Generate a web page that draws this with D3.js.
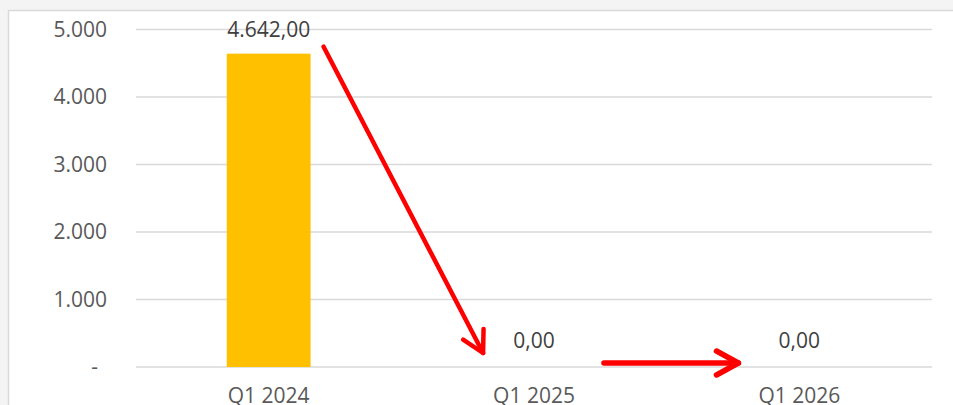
<!DOCTYPE html>
<html lang="de">
<head>
<meta charset="UTF-8">
<title>Q1 Vergleich</title>
<script src="https://cdn.jsdelivr.net/npm/d3@7"></script>
<style>
  html, body { margin: 0; padding: 0; background: #f4f4f4; }
  svg { display: block; font-family: "Open Sans", sans-serif; }
</style>
</head>
<body>
<div id="chart"></div>
<script>
// data
var categories = ['Q1 2024', 'Q1 2025', 'Q1 2026'];
var values = [4642, 0, 0];
var yTicks = [0, 1000, 2000, 3000, 4000, 5000];

var W = 953, H = 405;
var margin = { left: 136, right: 21, top: 29.5, bottom: 38 };

var svg = d3.select('#chart').append('svg')
    .attr('width', W).attr('height', H);

// white chart area with thin border
svg.append('rect')
    .attr('x', 8.5).attr('y', 10.5)
    .attr('width', W + 10).attr('height', H + 10)
    .attr('fill', '#fff')
    .attr('stroke', '#d9d9d9').attr('stroke-width', 1.5);

var x = d3.scaleBand()
    .domain(categories)
    .range([margin.left, W - margin.right])
    .paddingInner(0.684).paddingOuter(0.342);

var y = d3.scaleLinear()
    .domain([0, 5000])
    .range([H - margin.bottom, margin.top]);

var fmtAxis = function (d) {
    return d === 0 ? '-' : d3.format(',')(d).replace(/,/g, '.');
};
var fmtLabel = function (d) {
    // 4642 -> 4.642,00
    return d3.format(',.2f')(d).replace(/,/g, '#').replace('.', ',').replace(/#/g, '.');
};

// gridlines
svg.append('g')
  .selectAll('line')
  .data(yTicks)
  .join('line')
    .attr('x1', margin.left).attr('x2', W - margin.right)
    .attr('y1', function (d) { return y(d); })
    .attr('y2', function (d) { return y(d); })
    .attr('stroke', '#d9d9d9').attr('stroke-width', 1.6);

// y axis labels
var yAxis = d3.axisLeft(y).tickValues(yTicks).tickSize(0).tickPadding(0).tickFormat(fmtAxis);
var gy = svg.append('g').attr('transform', 'translate(107,0)').call(yAxis);
gy.select('.domain').remove();
gy.selectAll('text')
    .attr('font-family', '"Open Sans", sans-serif')
    .attr('font-size', 21)
    .attr('fill', '#595959')
    .attr('dy', '0.33em')
    .attr('x', function (d) { return d === 0 ? -9 : 0; });

// bars
svg.append('g')
  .selectAll('rect')
  .data(values)
  .join('rect')
    .attr('x', function (d, i) { return x(categories[i]); })
    .attr('y', function (d) { return y(d); })
    .attr('width', x.bandwidth())
    .attr('height', function (d) { return y(0) - y(d); })
    .attr('fill', '#ffc000');

// value labels
svg.append('g')
  .selectAll('text')
  .data(values)
  .join('text')
    .attr('x', function (d, i) { return x(categories[i]) + x.bandwidth() / 2; })
    .attr('y', function (d) { return y(d) - (d === 0 ? 19 : 17); })
    .attr('text-anchor', 'middle')
    .attr('font-size', 21)
    .attr('fill', '#404040')
    .text(fmtLabel);

// x axis labels
var xAxis = d3.axisBottom(x).tickSize(0).tickPadding(0);
var gx = svg.append('g').attr('transform', 'translate(0,' + y(0) + ')').call(xAxis);
gx.select('.domain').remove();
gx.selectAll('text')
    .attr('font-family', '"Open Sans", sans-serif')
    .attr('font-size', 21)
    .attr('fill', '#595959')
    .attr('dy', null)
    .attr('y', 36);

// red arrows
function arrow(x1, y1, x2, y2, sw, head) {
    var a = Math.atan2(y2 - y1, x2 - x1);
    var g = svg.append('g')
        .attr('stroke', '#ff0000').attr('stroke-width', sw)
        .attr('fill', 'none').attr('stroke-linecap', 'round').attr('stroke-linejoin', 'round');
    g.append('line').attr('x1', x1).attr('y1', y1).attr('x2', x2).attr('y2', y2);
    var p = d3.path();
    p.moveTo(x2 - head * Math.cos(a - 0.5), y2 - head * Math.sin(a - 0.5));
    p.lineTo(x2, y2);
    p.lineTo(x2 - head * Math.cos(a + 0.5), y2 - head * Math.sin(a + 0.5));
    g.append('path').attr('d', p.toString());
}
var b0 = x(categories[0]), b1 = x(categories[1]), b2 = x(categories[2]), bw = x.bandwidth();
arrow(b0 + bw + 13, y(4642) - 7, b1 - 9, y(0) - 14, 4.5, 24);
arrow(b1 + bw + 28, y(0) - 4, b2 - 19, y(0) - 4, 5.5, 25);
</script>
</body>
</html>
